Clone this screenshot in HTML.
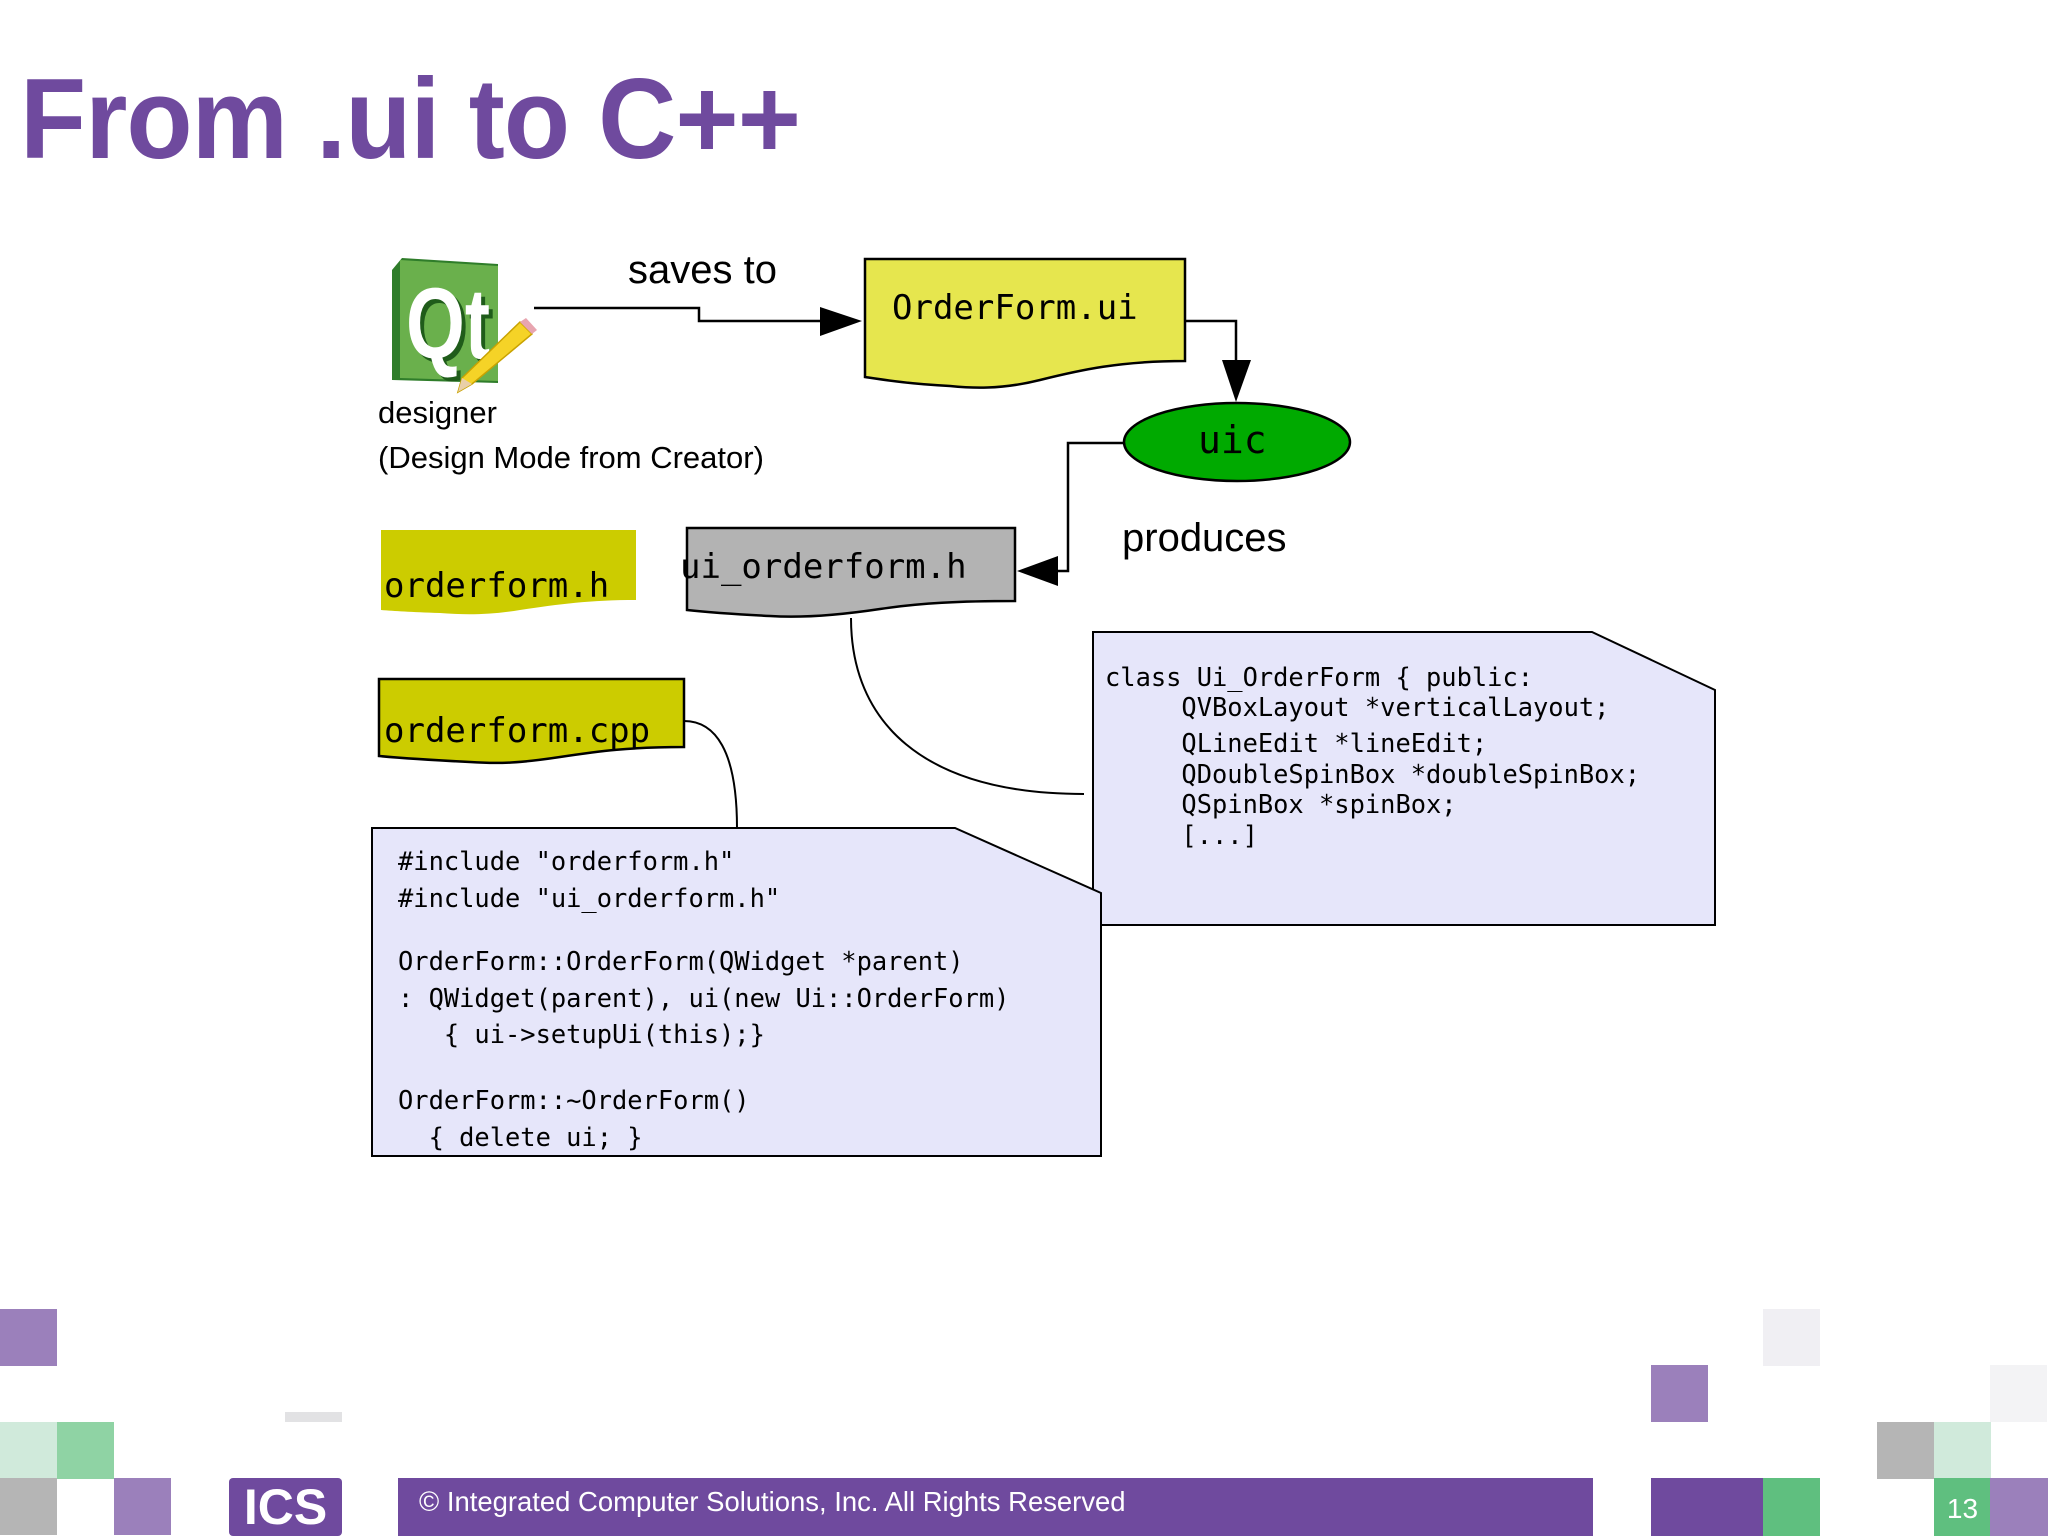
<!DOCTYPE html>
<html><head><meta charset="utf-8"><style>
html,body{margin:0;padding:0;background:#fff;}
body{width:2048px;height:1536px;position:relative;overflow:hidden;font-family:"Liberation Sans",sans-serif;}
.t{position:absolute;white-space:pre;}
.m{font-family:"DejaVu Sans Mono","Liberation Mono",monospace;}
.sq{position:absolute;width:57px;height:57px;}
</style></head><body>
<div class="t" style="left:20px;top:54px;font-size:114px;font-weight:bold;color:#6f4a9e;letter-spacing:-1px;transform:scaleX(0.95);transform-origin:0 0;">From .ui to C++</div>

<svg width="2048" height="1536" style="position:absolute;left:0;top:0">
  <path d="M402,258 L498,264 L498,383 L392,380 L392,270 Z" fill="#2f7d2a"/>
  <path d="M400,260 L498,266 L498,381 L400,378 Z" fill="#6ab04c"/>
  <text x="410" y="362" font-family="Liberation Sans" font-weight="bold" font-size="100" fill="#1f5c1a" textLength="84" lengthAdjust="spacingAndGlyphs">Qt</text>
  <text x="406" y="358" font-family="Liberation Sans" font-weight="bold" font-size="100" fill="#fff" textLength="84" lengthAdjust="spacingAndGlyphs">Qt</text>
  <path d="M520,322 L532,334 L472,384 L458,392 L462,378 Z" fill="#f5d327" stroke="#c9a200" stroke-width="1.5"/>
  <path d="M520,322 L526,318 L537,330 L532,334 Z" fill="#e8a5b0"/>
  <path d="M462,378 L472,384 L458,392 Z" fill="#e9cfa8"/>

  <polyline points="534,308 699,308 699,321 822,321" fill="none" stroke="#000" stroke-width="2.5"/>
  <polygon points="820,307 862,321 820,336" fill="#000"/>

  <path d="M865,259 L1185,259 L1185,361 C1120,361 1080,370 1040,380 C1000,390 970,388 950,386 C910,384 885,380 865,377 Z" fill="#e6e64e" stroke="#000" stroke-width="2.5"/>
  <polyline points="1185,321 1236,321 1236,366" fill="none" stroke="#000" stroke-width="2.5"/>
  <polygon points="1222,360 1236,402 1251,360" fill="#000"/>

  <ellipse cx="1237" cy="442" rx="113" ry="39" fill="#00aa00" stroke="#000" stroke-width="2.5"/>
  <polyline points="1124,443 1068,443 1068,571 1056,571" fill="none" stroke="#000" stroke-width="2.5"/>
  <polygon points="1058,556 1017,571 1058,586" fill="#000"/>

  <path d="M687,528 L1015,528 L1015,601 C960,601 920,603 880,609 C840,615 800,618 770,616 C730,614 705,612 687,610 Z" fill="#b3b3b3" stroke="#000" stroke-width="2.5"/>

  <path d="M381,530 L636,530 L636,600 C590,600 560,604 520,610 C490,615 465,615 440,613 C410,612 395,611 381,610 Z" fill="#cccc00"/>

  <path d="M379,679 L684,679 L684,747 C630,747 600,751 560,757 C520,763 500,764 470,762 C430,760 400,758 379,756 Z" fill="#cccc00" stroke="#000" stroke-width="2.5"/>

  <path d="M851,618 C851,720 920,794 1084,794" fill="none" stroke="#000" stroke-width="2"/>
  <path d="M684,721 C715,721 737,750 737,828" fill="none" stroke="#000" stroke-width="2"/>

  <path d="M1093,632 L1592,632 L1715,690 L1715,925 L1093,925 Z" fill="#e6e6fa" stroke="#000" stroke-width="2"/>
  <path d="M372,828 L955,828 L1101,893 L1101,1156 L372,1156 Z" fill="#e6e6fa" stroke="#000" stroke-width="2"/>
</svg>

<div class="t" style="left:628px;top:248px;font-size:40px;">saves to</div>
<div class="t m" style="left:892px;top:288px;font-size:34px;">OrderForm.ui</div>
<div class="t" style="left:378px;top:395px;font-size:31px;">designer</div>
<div class="t" style="left:378px;top:440px;font-size:31px;">(Design Mode from Creator)</div>
<div class="t m" style="left:1198px;top:418px;font-size:38px;">uic</div>
<div class="t" style="left:1122px;top:516px;font-size:40px;">produces</div>
<div class="t m" style="left:680px;top:547px;font-size:34px;">ui_orderform.h</div>
<div class="t m" style="left:384px;top:566px;font-size:34px;">orderform.h</div>
<div class="t m" style="left:384px;top:711px;font-size:34px;">orderform.cpp</div>

<div class="t m" style="left:1105px;top:662px;font-size:25.4px;line-height:30px;">class Ui_OrderForm { public:
     QVBoxLayout *verticalLayout;</div>
<div class="t m" style="left:1105px;top:728px;font-size:25.4px;line-height:30.5px;">     QLineEdit *lineEdit;
     QDoubleSpinBox *doubleSpinBox;
     QSpinBox *spinBox;
     [...]</div>

<div class="t m" style="left:398px;top:843px;font-size:25.4px;line-height:37px;">#include "orderform.h"
#include "ui_orderform.h"</div>
<div class="t m" style="left:398px;top:943px;font-size:25.4px;line-height:36.5px;">OrderForm::OrderForm(QWidget *parent)
: QWidget(parent), ui(new Ui::OrderForm)
   { ui->setupUi(this);}</div>
<div class="t m" style="left:398px;top:1082px;font-size:25.4px;line-height:37px;">OrderForm::~OrderForm()
  { delete ui; }</div>

<div class="sq" style="left:0;top:1309px;background:#9b80bb"></div>
<div class="sq" style="left:0;top:1422px;background:#d0eadb"></div>
<div class="sq" style="left:57px;top:1422px;background:#8fd3a4"></div>
<div class="sq" style="left:0;top:1478px;background:#b5b5b5"></div>
<div class="sq" style="left:114px;top:1478px;background:#9b80bb"></div>
<div style="position:absolute;left:285px;top:1412px;width:57px;height:10px;background:#e2e2e4"></div>
<div style="position:absolute;left:229px;top:1478px;width:113px;height:58px;background:#6f4a9e;border-radius:4px;color:#fff;font-weight:bold;font-size:50px;text-align:center;line-height:58px;">ICS</div>
<div style="position:absolute;left:398px;top:1478px;width:1195px;height:58px;background:#6f4a9e;"></div>
<div class="t" style="left:419px;top:1486px;font-size:28px;color:#fff;transform:scaleX(0.98);transform-origin:0 0;">© Integrated Computer Solutions, Inc. All Rights Reserved</div>
<div class="sq" style="left:1763px;top:1309px;background:#f0eff3"></div>
<div class="sq" style="left:1651px;top:1365px;background:#9b80bb"></div>
<div style="position:absolute;left:1651px;top:1478px;width:112px;height:58px;background:#6f4a9e"></div>
<div class="sq" style="left:1763px;top:1478px;height:58px;background:#5fbf7f"></div>
<div class="sq" style="left:1990px;top:1365px;background:#f3f3f5"></div>
<div class="sq" style="left:1877px;top:1422px;background:#b5b5b5"></div>
<div class="sq" style="left:1934px;top:1422px;background:#d0eadb"></div>
<div class="sq" style="left:1934px;top:1478px;height:58px;background:#5fbf7f;color:#fff;font-size:28px;text-align:center;line-height:62px;">13</div>
<div class="sq" style="left:1990px;top:1478px;width:58px;height:58px;background:#9b80bb"></div>
</body></html>
